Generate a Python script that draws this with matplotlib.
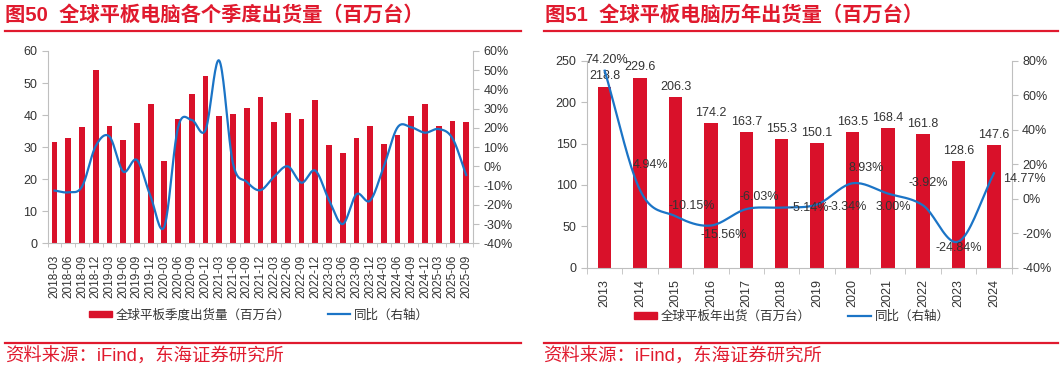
import numpy as np
import matplotlib
matplotlib.use("Agg")
import matplotlib.pyplot as plt
from matplotlib.lines import Line2D
from matplotlib.patches import Patch

plt.rcParams['font.family'] = ['Liberation Sans', 'Noto Sans CJK SC', 'DejaVu Sans']
plt.rcParams['axes.unicode_minus'] = False

# ---- data: quarterly shipments (left) ----
quarters = ['2018-03', '2018-06', '2018-09', '2018-12', '2019-03', '2019-06', '2019-09', '2019-12',
            '2020-03', '2020-06', '2020-09', '2020-12', '2021-03', '2021-06', '2021-09', '2021-12',
            '2022-03', '2022-06', '2022-09', '2022-12', '2023-03', '2023-06', '2023-09', '2023-12',
            '2024-03', '2024-06', '2024-09', '2024-12', '2025-03', '2025-06', '2025-09']
q_ship = [31.7, 32.9, 36.3, 54.2, 36.6, 32.1, 37.6, 43.6,
          25.7, 38.8, 46.7, 52.2, 39.8, 40.4, 42.3, 45.6,
          37.9, 40.5, 38.7, 44.6, 30.7, 28.2, 32.9, 36.7,
          30.9, 33.8, 39.7, 43.4, 36.7, 38.3, 37.9]
q_yoy = [-12.6, -13.5, -10.5, 10.6, 15.5, -2.7, 3.3, -15.7,
         -31.3, 20.3, 24.1, 18.9, 55.0, 1.6, -8.0, -12.4,
         -5.3, 0.0, -8.5, -2.2, -17.5, -30.0, -14.5, -17.8,
         0.0, 20.3, 20.3, 17.5, 19.4, 14.6, -4.5]

# ---- data: yearly shipments (right) ----
years = ['2013', '2014', '2015', '2016', '2017', '2018', '2019', '2020', '2021', '2022', '2023', '2024']
y_ship = [218.8, 229.6, 206.3, 174.2, 163.7, 155.3, 150.1, 163.5, 168.4, 161.8, 128.6, 147.6]
y_yoy = [74.20, 4.94, -10.15, -15.56, -6.03, -5.14, -3.34, 8.93, 3.00, -3.92, -24.84, 14.77]
# label offsets in pixels for the yoy labels (dx, dy)
yoy_off = [(2, 11), (10, 25), (16, 10), (13, -9), (13, 12), (28, 0),
           (30, -3), (14, 15), (6, -13), (5, 22), (0, -6), (30, -6)]

RED = '#D9112A'
TRED = '#E01A2E'
BLUE = '#1B74C6'
GREY = '#BFBFBF'
TXT = '#333333'


def smooth(x, y, n=20):
    # catmull-rom, like excel's smoothed line
    x = np.asarray(x, float)
    y = np.asarray(y, float)
    px = np.concatenate([[2 * x[0] - x[1]], x, [2 * x[-1] - x[-2]]])
    py = np.concatenate([[2 * y[0] - y[1]], y, [2 * y[-1] - y[-2]]])
    xs, ys = [], []
    t = np.linspace(0, 1, n, endpoint=False)
    for i in range(1, len(px) - 2):
        for p, out in ((px, xs), (py, ys)):
            p0, p1, p2, p3 = p[i - 1], p[i], p[i + 1], p[i + 2]
            out.extend(0.5 * ((2 * p1) + (-p0 + p2) * t + (2 * p0 - 5 * p1 + 4 * p2 - p3) * t ** 2
                              + (-p0 + 3 * p1 - 3 * p2 + p3) * t ** 3))
    xs.append(x[-1])
    ys.append(y[-1])
    return np.array(xs), np.array(ys)


def style(ax, ax2):
    for a in (ax, ax2):
        a.spines['top'].set_visible(False)
        for s in ('left', 'right', 'bottom'):
            a.spines[s].set_color(GREY)
        a.tick_params(axis='y', colors=GREY, labelcolor=TXT, labelsize=9, length=4)
    ax.spines['right'].set_visible(False)
    ax2.spines['left'].set_visible(False)
    ax2.spines['bottom'].set_visible(False)


fig = plt.figure(figsize=(10.63, 3.72), dpi=100)

# ================= left chart =================
ax = fig.add_axes([0.0449, 0.346, 0.4001, 0.517])
ax2 = ax.twinx()
xq = np.arange(len(quarters))
ax.bar(xq, q_ship, width=0.42, color=RED, zorder=2)
ax.set_ylim(0, 60)
ax.set_yticks(np.arange(0, 61, 10))
ax.set_xlim(-0.5, len(quarters) - 0.5)
ax.set_xticks(xq)
ax.set_xticklabels(quarters, rotation=90, fontsize=8.5, color=TXT)
ax.set_xticks(np.arange(-0.5, len(quarters), 1), minor=True)
ax.tick_params(axis='x', which='major', length=0, pad=8)
ax.tick_params(axis='x', which='minor', length=3, color=GREY)
sx, sy = smooth(xq, q_yoy)
ax2.plot(sx, sy, color=BLUE, lw=1.6, zorder=3)
ax2.set_ylim(-40, 60)
ax2.set_yticks(np.arange(-40, 61, 10))
ax2.set_yticklabels(['%d%%' % v for v in range(-40, 61, 10)])
style(ax, ax2)

fig.legend(handles=[Patch(color=RED, label='全球平板季度出货量（百万台）'),
                    Line2D([], [], color=BLUE, lw=1.6, label='同比（右轴）')],
           loc='center', bbox_to_anchor=(0.2437, 0.153), ncol=2, frameon=False,
           fontsize=9, handlelength=1.8, handleheight=0.4, columnspacing=3.0,
           handletextpad=0.3, labelcolor=TXT)

# ================= right chart =================
bx = fig.add_axes([0.5522, 0.2804, 0.3995, 0.5564])
bx2 = bx.twinx()
xy = np.arange(len(years))
bars = bx.bar(xy, y_ship, width=0.38, color=RED, zorder=2)
bx.set_ylim(0, 250)
bx.set_yticks(np.arange(0, 251, 50))
bx.set_xlim(-0.5, len(years) - 0.5)
bx.set_xticks(xy)
bx.set_xticklabels(years, rotation=90, fontsize=9, color=TXT)
bx.set_xticks(np.arange(-0.5, len(years), 1), minor=True)
bx.tick_params(axis='x', which='major', length=0, pad=8)
bx.tick_params(axis='x', which='minor', length=4, color=GREY)
for xi, v in zip(xy, y_ship):
    bx.annotate('%.1f' % v, (xi, v), xytext=(0, 3), textcoords='offset points',
                ha='center', va='bottom', fontsize=9, color=TXT, zorder=5)
sx, sy = smooth(xy, y_yoy)
bx2.plot(sx, sy, color=BLUE, lw=1.6, zorder=3)
bx2.set_ylim(-40, 80)
bx2.set_yticks(np.arange(-40, 81, 20))
bx2.set_yticklabels(['%d%%' % v for v in range(-40, 81, 20)])
for xi, v, (dx, dy) in zip(xy, y_yoy, yoy_off):
    bx2.annotate('%.2f%%' % v, (xi, v), xytext=(dx, dy), textcoords='offset pixels',
                 ha='center', va='center', fontsize=9, color=TXT, zorder=6)
style(bx, bx2)

fig.legend(handles=[Patch(color=RED, label='全球平板年出货（百万台）'),
                    Line2D([], [], color=BLUE, lw=1.6, label='同比（右轴）')],
           loc='center', bbox_to_anchor=(0.745, 0.148), ncol=2, frameon=False,
           fontsize=9, handlelength=1.8, handleheight=0.4, columnspacing=3.0,
           handletextpad=0.3, labelcolor=TXT)

# ================= titles, rules, sources =================
fig.text(5 / 1063, 1 - 15 / 372, '图50  全球平板电脑各个季度出货量（百万台）', color=TRED,
         fontsize=14.6, fontweight='bold', va='center', ha='left')
fig.text(545 / 1063, 1 - 15 / 372, '图51  全球平板电脑历年出货量（百万台）', color=TRED,
         fontsize=14.6, fontweight='bold', va='center', ha='left')
for x0, x1 in ((5, 521), (544, 1058)):
    fig.add_artist(Line2D([x0 / 1063, x1 / 1063], [1 - 31 / 372] * 2, color=TRED, lw=1.6))
    fig.add_artist(Line2D([x0 / 1063, x1 / 1063], [1 - 343 / 372] * 2, color=TRED, lw=1.6))
fig.text(5 / 1063, 1 - 357 / 372, '资料来源：iFind，东海证券研究所', color=TRED,
         fontsize=13.2, va='center', ha='left')
fig.text(543 / 1063, 1 - 357 / 372, '资料来源：iFind，东海证券研究所', color=TRED,
         fontsize=13.2, va='center', ha='left')

fig.savefig('out.png', dpi=100)
